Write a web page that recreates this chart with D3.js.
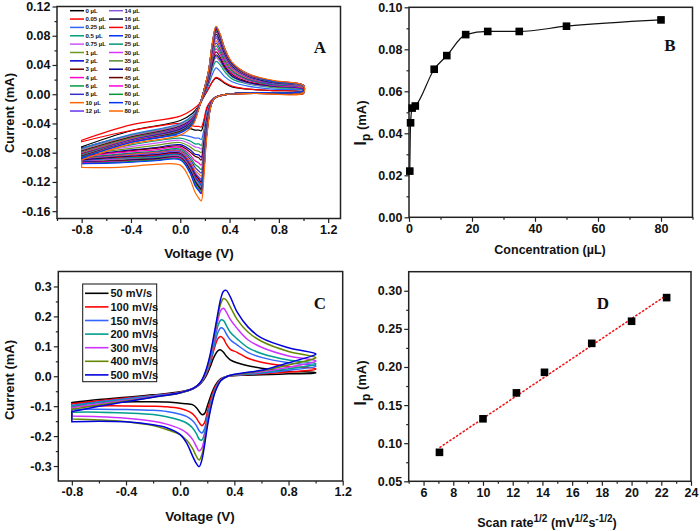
<!DOCTYPE html>
<html><head><meta charset="utf-8">
<script src="https://cdn.jsdelivr.net/npm/d3@7"></script>
<style>body{margin:0;background:#fff}svg{display:block}</style>
</head><body>
<script>
// ---------------- DATA ----------------
// Panel A: CV curves for added volumes
const concA = ["0","0.05","0.25","0.5","0.75","1","2","3","4","6","8","10","12","14","16","18","20","25","30","35","40","45","50","60","70","80"];
const colorsA = ["#000000","#ff0000","#3366ff","#00a07a","#cc55ff","#6b9a1f","#0000cc","#660000","#ff00cc","#009944","#3333cc","#ff6600","#6633ee",
                 "#8855dd","#000033","#ff0000","#0033ff","#009977","#dd33ff","#558833","#000099","#660000","#ff00dd","#009933","#0033ff","#ff6600"];
const fwdVA = [-0.8,-0.4,0.0,0.1,0.15,0.19,0.23,0.26,0.29,0.32,0.36,0.42,0.55,0.75,1.0];
const revVA = [1.0,0.6,0.35,0.27,0.22,0.19,0.17,0.15,0.12,0.08,0.0,-0.2,-0.5,-0.8];
const fwdA = [
 [-0.072,-0.05,-0.036,-0.026,-0.016,-0.004,0.008,0.017,0.022,0.02,0.015,0.01,0.007,0.005,0.003],
 [-0.063,-0.042,-0.03,-0.021,-0.014,-0.003,0.008,0.017,0.023,0.021,0.016,0.011,0.007,0.005,0.003],
 [-0.074,-0.055,-0.04,-0.029,-0.017,-0.002,0.013,0.027,0.036,0.032,0.024,0.017,0.011,0.007,0.005],
 [-0.075,-0.056,-0.041,-0.03,-0.017,-0.001,0.016,0.034,0.045,0.041,0.031,0.021,0.014,0.009,0.006],
 [-0.076,-0.057,-0.042,-0.031,-0.017,0.0,0.018,0.038,0.05,0.045,0.034,0.024,0.015,0.01,0.007],
 [-0.077,-0.058,-0.043,-0.032,-0.018,0.0,0.018,0.039,0.052,0.047,0.035,0.024,0.016,0.01,0.007],
 [-0.078,-0.059,-0.044,-0.033,-0.018,0.0,0.019,0.041,0.054,0.049,0.037,0.025,0.016,0.011,0.007],
 [-0.078,-0.059,-0.045,-0.034,-0.018,0.001,0.02,0.044,0.058,0.052,0.039,0.027,0.017,0.012,0.008],
 [-0.079,-0.06,-0.045,-0.034,-0.018,0.001,0.022,0.047,0.062,0.056,0.042,0.029,0.019,0.012,0.008],
 [-0.079,-0.06,-0.046,-0.035,-0.019,0.002,0.023,0.05,0.066,0.059,0.045,0.031,0.02,0.013,0.009],
 [-0.08,-0.061,-0.046,-0.035,-0.019,0.002,0.025,0.053,0.07,0.063,0.048,0.033,0.021,0.014,0.009],
 [-0.08,-0.061,-0.047,-0.036,-0.019,0.002,0.026,0.055,0.073,0.066,0.05,0.034,0.022,0.015,0.009],
 [-0.081,-0.062,-0.047,-0.036,-0.019,0.003,0.027,0.058,0.077,0.069,0.052,0.036,0.023,0.015,0.01],
 [-0.081,-0.062,-0.048,-0.037,-0.019,0.003,0.028,0.059,0.079,0.071,0.054,0.037,0.024,0.016,0.01],
 [-0.082,-0.063,-0.048,-0.037,-0.019,0.003,0.029,0.062,0.082,0.074,0.056,0.039,0.025,0.016,0.011],
 [-0.082,-0.063,-0.049,-0.038,-0.019,0.003,0.03,0.064,0.085,0.077,0.058,0.04,0.026,0.017,0.011],
 [-0.083,-0.063,-0.049,-0.038,-0.019,0.003,0.03,0.065,0.086,0.077,0.058,0.04,0.026,0.017,0.011],
 [-0.083,-0.064,-0.05,-0.038,-0.019,0.003,0.03,0.065,0.087,0.078,0.059,0.041,0.026,0.017,0.011],
 [-0.084,-0.064,-0.05,-0.039,-0.019,0.004,0.031,0.066,0.088,0.079,0.06,0.041,0.026,0.018,0.011],
 [-0.084,-0.064,-0.05,-0.039,-0.019,0.004,0.031,0.066,0.088,0.079,0.06,0.041,0.026,0.018,0.011],
 [-0.085,-0.065,-0.051,-0.039,-0.019,0.004,0.031,0.067,0.089,0.08,0.061,0.042,0.027,0.018,0.012],
 [-0.085,-0.065,-0.051,-0.04,-0.019,0.004,0.032,0.068,0.09,0.081,0.061,0.042,0.027,0.018,0.012],
 [-0.086,-0.065,-0.052,-0.04,-0.019,0.004,0.032,0.068,0.091,0.082,0.062,0.043,0.027,0.018,0.012],
 [-0.086,-0.066,-0.052,-0.04,-0.019,0.004,0.032,0.069,0.092,0.083,0.063,0.043,0.028,0.018,0.012],
 [-0.087,-0.066,-0.053,-0.041,-0.019,0.004,0.032,0.069,0.092,0.083,0.063,0.043,0.028,0.018,0.012],
 [-0.09,-0.068,-0.056,-0.043,-0.02,0.004,0.033,0.07,0.093,0.084,0.063,0.044,0.028,0.019,0.012]
];
const revA = [
 [0.001,0.001,-0.001,-0.006,-0.018,-0.04,-0.05,-0.049,-0.049,-0.047,-0.046,-0.05,-0.06,-0.074],
 [0.001,0.001,-0.001,-0.006,-0.016,-0.036,-0.045,-0.044,-0.044,-0.042,-0.04,-0.044,-0.053,-0.065],
 [0.002,0.002,-0.001,-0.006,-0.022,-0.05,-0.062,-0.06,-0.06,-0.058,-0.056,-0.06,-0.068,-0.078],
 [0.003,0.002,-0.001,-0.006,-0.025,-0.056,-0.07,-0.068,-0.068,-0.064,-0.06,-0.064,-0.072,-0.08],
 [0.003,0.002,-0.001,-0.006,-0.026,-0.06,-0.075,-0.073,-0.072,-0.068,-0.063,-0.067,-0.074,-0.081],
 [0.003,0.002,-0.001,-0.006,-0.028,-0.064,-0.08,-0.078,-0.077,-0.072,-0.066,-0.07,-0.076,-0.082],
 [0.003,0.002,-0.001,-0.006,-0.03,-0.069,-0.086,-0.083,-0.082,-0.076,-0.069,-0.073,-0.078,-0.084],
 [0.004,0.002,-0.001,-0.006,-0.032,-0.072,-0.09,-0.087,-0.085,-0.079,-0.071,-0.074,-0.079,-0.085],
 [0.004,0.002,-0.001,-0.006,-0.034,-0.078,-0.097,-0.094,-0.091,-0.083,-0.073,-0.076,-0.08,-0.086],
 [0.004,0.002,-0.001,-0.007,-0.036,-0.082,-0.103,-0.1,-0.096,-0.086,-0.075,-0.078,-0.082,-0.087],
 [0.004,0.002,-0.001,-0.007,-0.038,-0.086,-0.108,-0.105,-0.1,-0.089,-0.077,-0.079,-0.083,-0.088],
 [0.004,0.002,-0.001,-0.007,-0.039,-0.09,-0.112,-0.109,-0.104,-0.092,-0.078,-0.08,-0.084,-0.089],
 [0.005,0.002,-0.001,-0.007,-0.041,-0.093,-0.116,-0.113,-0.107,-0.094,-0.079,-0.081,-0.085,-0.089],
 [0.005,0.002,-0.001,-0.007,-0.041,-0.094,-0.118,-0.114,-0.109,-0.095,-0.08,-0.082,-0.086,-0.09],
 [0.005,0.002,-0.001,-0.007,-0.042,-0.096,-0.12,-0.116,-0.11,-0.097,-0.081,-0.083,-0.086,-0.09],
 [0.005,0.002,-0.001,-0.007,-0.043,-0.098,-0.122,-0.118,-0.112,-0.098,-0.082,-0.084,-0.087,-0.091],
 [0.005,0.002,-0.001,-0.007,-0.043,-0.099,-0.124,-0.12,-0.114,-0.1,-0.083,-0.085,-0.088,-0.091],
 [0.005,0.002,-0.001,-0.007,-0.044,-0.101,-0.126,-0.122,-0.116,-0.101,-0.084,-0.086,-0.088,-0.092],
 [0.005,0.002,-0.001,-0.007,-0.045,-0.102,-0.128,-0.124,-0.117,-0.102,-0.085,-0.087,-0.089,-0.092],
 [0.005,0.002,-0.001,-0.007,-0.045,-0.103,-0.129,-0.125,-0.118,-0.103,-0.086,-0.087,-0.09,-0.093],
 [0.005,0.002,-0.001,-0.007,-0.046,-0.104,-0.13,-0.126,-0.119,-0.104,-0.087,-0.088,-0.091,-0.093],
 [0.005,0.002,-0.001,-0.007,-0.046,-0.105,-0.131,-0.127,-0.12,-0.105,-0.087,-0.089,-0.091,-0.094],
 [0.005,0.002,-0.001,-0.007,-0.047,-0.108,-0.135,-0.131,-0.123,-0.107,-0.088,-0.09,-0.092,-0.094],
 [0.005,0.002,-0.001,-0.007,-0.047,-0.106,-0.133,-0.129,-0.122,-0.107,-0.089,-0.09,-0.093,-0.095],
 [0.005,0.002,-0.001,-0.007,-0.048,-0.109,-0.136,-0.132,-0.125,-0.108,-0.09,-0.091,-0.094,-0.095],
 [0.002,0.001,-0.001,-0.007,-0.051,-0.117,-0.146,-0.142,-0.134,-0.117,-0.097,-0.096,-0.1,-0.1]
];
const xTicksA = [-0.8,-0.4,0.0,0.4,0.8,1.2], xMinorA = [-1.0,-0.6,-0.2,0.2,0.6,1.0];
const yTicksA = [0.12,0.08,0.04,0.0,-0.04,-0.08,-0.12,-0.16], yMinorA = [0.10,0.06,0.02,-0.02,-0.06,-0.10,-0.14];

// Panel B: peak current vs concentration
const concB = [0.25,0.5,1,2,8,12,18,25,35,50,80];
const ipB = [0.022,0.045,0.052,0.053,0.0705,0.077,0.087,0.0885,0.0885,0.091,0.094];
const xTicksB = [0,20,40,60,80], xMinorB = [10,30,50,70,90];
const yTicksB = [0.00,0.02,0.04,0.06,0.08,0.10], yMinorB = [0.01,0.03,0.05,0.07,0.09];

// Panel C: CV at scan rates
const ratesC = ["50 mV/s","100 mV/s","150 mV/s","200 mV/s","300 mV/s","400 mV/s","500 mV/s"];
const colorsC = ["#000000","#ff0000","#3366ff","#009e8e","#cc33ff","#668800","#0000dd"];
const fwdVC = [-0.8,-0.6,-0.4,-0.2,0.0,0.1,0.15,0.19,0.22,0.25,0.28,0.30,0.32,0.34,0.37,0.42,0.5,0.6,0.8,1.0];
const revVC = [1.0,0.8,0.6,0.45,0.35,0.3,0.26,0.23,0.2,0.18,0.16,0.14,0.12,0.09,0.05,0.0,-0.1,-0.2,-0.4,-0.6,-0.8];
const fwdC = [
 [-0.088,-0.078,-0.07,-0.062,-0.052,-0.04,-0.025,0.0,0.03,0.065,0.086,0.088,0.08,0.068,0.055,0.045,0.035,0.027,0.017,0.012],
 [-0.092,-0.082,-0.073,-0.064,-0.053,-0.04,-0.024,0.005,0.04,0.09,0.127,0.133,0.125,0.108,0.09,0.08,0.06,0.047,0.033,0.025],
 [-0.097,-0.085,-0.075,-0.065,-0.054,-0.04,-0.023,0.008,0.045,0.1,0.148,0.162,0.158,0.142,0.122,0.105,0.08,0.063,0.045,0.035],
 [-0.1,-0.088,-0.078,-0.066,-0.055,-0.04,-0.022,0.01,0.05,0.11,0.17,0.188,0.186,0.17,0.147,0.125,0.096,0.076,0.054,0.042],
 [-0.105,-0.092,-0.08,-0.068,-0.055,-0.04,-0.021,0.013,0.058,0.122,0.19,0.22,0.227,0.215,0.19,0.16,0.122,0.097,0.068,0.052],
 [-0.11,-0.096,-0.083,-0.07,-0.056,-0.04,-0.02,0.016,0.064,0.132,0.205,0.243,0.26,0.255,0.232,0.19,0.148,0.117,0.083,0.063],
 [-0.118,-0.1,-0.085,-0.07,-0.055,-0.04,-0.02,0.02,0.07,0.14,0.215,0.26,0.284,0.287,0.265,0.215,0.165,0.128,0.095,0.075]
];
const revC = [
 [0.011,0.008,0.005,0.003,0.0,-0.008,-0.03,-0.06,-0.1,-0.125,-0.128,-0.118,-0.105,-0.095,-0.092,-0.09,-0.086,-0.085,-0.086,-0.087,-0.089],
 [0.023,0.014,0.008,0.004,0.0,-0.01,-0.035,-0.07,-0.12,-0.155,-0.165,-0.155,-0.14,-0.125,-0.115,-0.108,-0.102,-0.1,-0.099,-0.099,-0.1],
 [0.033,0.02,0.01,0.005,0.0,-0.011,-0.04,-0.08,-0.135,-0.175,-0.19,-0.182,-0.165,-0.148,-0.135,-0.127,-0.118,-0.114,-0.111,-0.11,-0.11],
 [0.04,0.025,0.012,0.006,0.0,-0.012,-0.042,-0.085,-0.145,-0.19,-0.213,-0.21,-0.192,-0.172,-0.157,-0.147,-0.135,-0.128,-0.123,-0.12,-0.12],
 [0.05,0.03,0.015,0.007,0.0,-0.013,-0.045,-0.09,-0.155,-0.205,-0.24,-0.25,-0.235,-0.21,-0.19,-0.176,-0.16,-0.15,-0.14,-0.135,-0.133],
 [0.061,0.038,0.018,0.008,0.0,-0.014,-0.048,-0.095,-0.162,-0.22,-0.262,-0.28,-0.268,-0.24,-0.215,-0.195,-0.178,-0.165,-0.152,-0.146,-0.143],
 [0.073,0.045,0.02,0.01,0.0,-0.015,-0.05,-0.1,-0.17,-0.23,-0.28,-0.302,-0.292,-0.265,-0.225,-0.195,-0.172,-0.162,-0.152,-0.15,-0.152]
];
const xTicksC = [-0.8,-0.4,0.0,0.4,0.8,1.2], xMinorC = [-0.6,-0.2,0.2,0.6,1.0];
const yTicksC = [0.3,0.2,0.1,0.0,-0.1,-0.2,-0.3], yMinorC = [0.25,0.15,0.05,-0.05,-0.15,-0.25];

// Panel D: peak current vs sqrt(scan rate)
const sqrtRateD = [7.07,10.0,12.25,14.14,17.32,20.0,22.36];
const ipD = [0.088,0.132,0.166,0.193,0.231,0.260,0.291];
const xTicksD = [6,8,10,12,14,16,18,20,22,24], xMinorD = [5,7,9,11,13,15,17,19,21,23];
const yTicksD = [0.05,0.10,0.15,0.20,0.25,0.30], yMinorD = [0.075,0.125,0.175,0.225,0.275];

// ---------------- DRAWING ----------------
const FONT = "Arial, 'Liberation Sans', sans-serif";
const SERIF = "'Times New Roman', 'Liberation Serif', serif";
const svg = d3.select("body").append("svg").attr("width",700).attr("height",531);
svg.append("rect").attr("width",700).attr("height",531).attr("fill","#fff");

function frame(x, y, xMaj, xMin, yMaj, yMin, fx, fy) {
  const [x0, x1] = x.range(); const [yb, yt] = y.range();
  const g = svg.append("g");
  const ax = (gen, tr) => {
    const a = g.append("g").attr("transform", tr).call(gen);
    a.select(".domain").remove();
    a.attr("font-family", FONT).attr("font-size", 12.5).attr("font-weight", "bold");
    a.selectAll("line").attr("stroke", "#222").attr("stroke-width", 1.2);
    a.selectAll("text").attr("fill", "#111");
    return a;
  };
  ax(d3.axisBottom(x).tickValues(xMin).tickSize(2.5).tickFormat(""), `translate(0,${yb})`);
  ax(d3.axisBottom(x).tickValues(xMaj).tickSize(4.5).tickPadding(2).tickFormat(fx), `translate(0,${yb})`);
  ax(d3.axisLeft(y).tickValues(yMin).tickSize(2.5).tickFormat(""), `translate(${x0},0)`);
  ax(d3.axisLeft(y).tickValues(yMaj).tickSize(4.5).tickPadding(2).tickFormat(fy), `translate(${x0},0)`);
  g.append("rect").attr("x", x0).attr("y", yt).attr("width", x1 - x0).attr("height", yb - yt)
    .attr("fill", "none").attr("stroke", "#222").attr("stroke-width", 1.5);
}
function title(txt, x, y, rot, size) {
  return svg.append("text").attr("font-family", FONT).attr("font-weight", "bold")
    .attr("font-size", size || 13).attr("text-anchor", "middle").attr("dominant-baseline", "central")
    .attr("fill", "#111").attr("transform", `translate(${x},${y}) rotate(${rot || 0})`).text(txt);
}
function ipTitle(x, y) {
  const t = svg.append("text").attr("font-family", FONT).attr("font-weight", "bold")
    .attr("text-anchor", "middle").attr("fill", "#111")
    .attr("transform", `translate(${x},${y}) rotate(-90)`);
  t.append("tspan").attr("font-size", 16).text("I");
  t.append("tspan").attr("font-size", 12).attr("dy", 4).text("p");
  t.append("tspan").attr("font-size", 13).attr("dy", -4).text(" (mA)");
}
function panelLabel(txt, x, y) {
  svg.append("text").attr("font-family", SERIF).attr("font-weight", "bold").attr("font-size", 17)
    .attr("text-anchor", "middle").attr("fill", "#111").attr("x", x).attr("y", y).text(txt);
}
const f2 = d => d.toFixed(2), f1 = d => d.toFixed(1), f0 = d => String(d);

// ----- Panel A -----
const xA = d3.scaleLinear().domain([-1.0, 1.3]).range([57, 340.5]);
const yA = d3.scaleLinear().domain([-0.17, 0.12]).range([218.5, 6.5]);
const lineA = d3.line().x(d => xA(d[0])).y(d => yA(d[1])).curve(d3.curveCatmullRom.alpha(0.5));
concA.forEach((c, i) => {
  const pts = fwdVA.map((v, j) => [v, fwdA[i][j]]).concat(revVA.map((v, j) => [v, revA[i][j]]));
  svg.append("path").attr("d", lineA(pts) + "Z").attr("fill", "none")
    .attr("stroke", colorsA[i]).attr("stroke-width", 1.2);
});
frame(xA, yA, xTicksA, xMinorA, yTicksA, yMinorA, f1, f2);
const legA = svg.append("g").attr("font-family", FONT).attr("font-size", 6).attr("font-weight", "bold");
concA.forEach((c, i) => {
  const col = i < 13 ? 0 : 1, row = i % 13;
  const lx = col === 0 ? 70 : 109, ly = 10.7 + row * 8.36;
  legA.append("line").attr("x1", lx).attr("x2", lx + 14).attr("y1", ly).attr("y2", ly)
    .attr("stroke", colorsA[i]).attr("stroke-width", 1.5);
  legA.append("text").attr("x", lx + 15.5).attr("y", ly).attr("dominant-baseline", "central")
    .attr("fill", "#111").text(c + " µL");
});
panelLabel("A", 320, 53);
title("Current (mA)", 9, 113, -90);
title("Voltage (V)", 199, 253, 0, 13.5);

// ----- Panel B -----
const xB = d3.scaleLinear().domain([0, 90]).range([409, 692.5]);
const yB = d3.scaleLinear().domain([0, 0.10]).range([217.3, 7.3]);
const ptsB = concB.map((c, i) => [c, ipB[i]]);
svg.append("path").attr("d", d3.line().x(d => xB(d[0])).y(d => yB(d[1])).curve(d3.curveMonotoneX)(ptsB))
  .attr("fill", "none").attr("stroke", "#111").attr("stroke-width", 1.2);
frame(xB, yB, xTicksB, xMinorB, yTicksB, yMinorB, f0, f2);
svg.append("g").selectAll("rect").data(ptsB).join("rect")
  .attr("x", d => xB(d[0]) - 3.8).attr("y", d => yB(d[1]) - 3.8).attr("width", 7.6).attr("height", 7.6).attr("fill", "#000");
panelLabel("B", 670, 51);
title("Concentration (µL)", 550, 250, 0, 12.5);
ipTitle(366, 123);

// ----- Panel C -----
const xC = d3.scaleLinear().domain([-0.9, 1.2]).range([58.3, 342.7]);
const yC = d3.scaleLinear().domain([-0.35, 0.35]).range([481, 271.5]);
const lineC = d3.line().x(d => xC(d[0])).y(d => yC(d[1])).curve(d3.curveCatmullRom.alpha(0.5));
ratesC.forEach((r, i) => {
  const pts = fwdVC.map((v, j) => [v, fwdC[i][j]]).concat(revVC.map((v, j) => [v, revC[i][j]]));
  svg.append("path").attr("d", lineC(pts) + "Z").attr("fill", "none")
    .attr("stroke", colorsC[i]).attr("stroke-width", 1.5);
});
frame(xC, yC, xTicksC, xMinorC, yTicksC, yMinorC, f1, f1);
const legC = svg.append("g").attr("font-family", FONT).attr("font-size", 11).attr("font-weight", "bold");
legC.append("rect").attr("x", 82.7).attr("y", 284).attr("width", 74).attr("height", 97.7)
  .attr("fill", "#fff").attr("stroke", "#111").attr("stroke-width", 1);
ratesC.forEach((r, i) => {
  const ly = 293.3 + i * 13.6;
  legC.append("line").attr("x1", 85).attr("x2", 108.5).attr("y1", ly).attr("y2", ly)
    .attr("stroke", colorsC[i]).attr("stroke-width", 1.6);
  legC.append("text").attr("x", 110.5).attr("y", ly).attr("dominant-baseline", "central").attr("fill", "#111").text(r);
});
panelLabel("C", 320, 309);
title("Current (mA)", 9, 380, -90);
title("Voltage (V)", 200, 516, 0, 13.5);

// ----- Panel D -----
const xD = d3.scaleLinear().domain([5, 24]).range([408.7, 691]);
const yD = d3.scaleLinear().domain([0.05, 0.325]).range([481.3, 271.7]);
const mx = d3.mean(sqrtRateD), my = d3.mean(ipD);
const slope = d3.sum(sqrtRateD, (v, i) => (v - mx) * (ipD[i] - my)) / d3.sum(sqrtRateD, v => (v - mx) * (v - mx));
const icpt = my - slope * mx;
const xe = d3.extent(sqrtRateD);
svg.append("line").attr("x1", xD(xe[0])).attr("y1", yD(icpt + slope * xe[0]))
  .attr("x2", xD(xe[1])).attr("y2", yD(icpt + slope * xe[1]))
  .attr("stroke", "#ee1111").attr("stroke-width", 1.5).attr("stroke-dasharray", "2.5,1.5");
frame(xD, yD, xTicksD, xMinorD, yTicksD, yMinorD, f0, f2);
svg.append("g").selectAll("rect").data(sqrtRateD).join("rect")
  .attr("x", d => xD(d) - 3.8).attr("y", (d, i) => yD(ipD[i]) - 3.8).attr("width", 7.6).attr("height", 7.6).attr("fill", "#000");
panelLabel("D", 603, 309);
ipTitle(366, 383);
const tD = svg.append("text").attr("font-family", FONT).attr("font-weight", "bold").attr("font-size", 12.5)
  .attr("text-anchor", "middle").attr("fill", "#111").attr("x", 547).attr("y", 527);
tD.append("tspan").text("Scan rate");
tD.append("tspan").attr("font-size", 10).attr("dy", -5).text("1/2");
tD.append("tspan").attr("dy", 5).text(" (mV");
tD.append("tspan").attr("font-size", 10).attr("dy", -5).text("1/2");
tD.append("tspan").attr("dy", 5).text("s");
tD.append("tspan").attr("font-size", 10).attr("dy", -5).text("-1/2");
tD.append("tspan").attr("dy", 5).text(")");
</script>
</body></html>
